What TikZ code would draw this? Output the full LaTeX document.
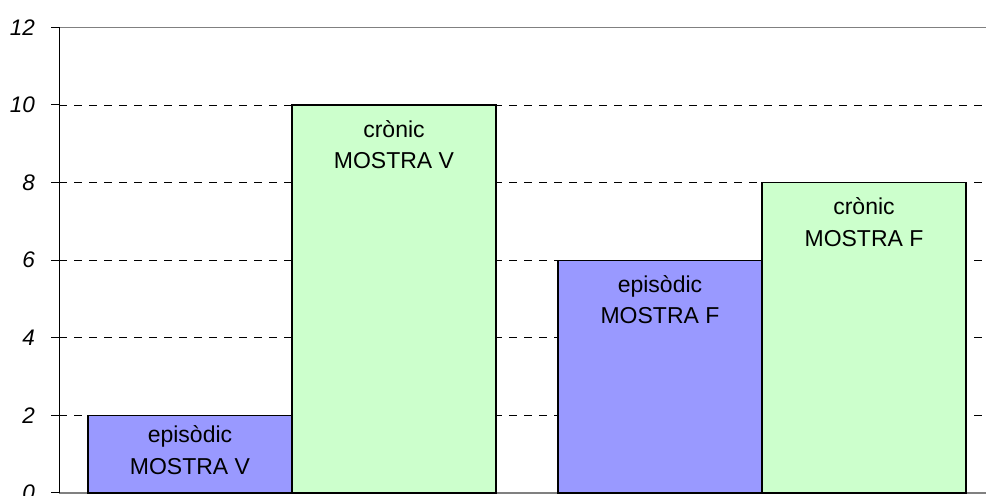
\documentclass[tikz,border=0pt]{standalone}
\usepackage{fontspec}
\setmainfont{Liberation Sans}
\tikzset{
  grid line/.style={black, line width=0.9pt, dash pattern=on 8pt off 7pt},
  episodic bar/.style={draw=black, line width=1.3pt, fill=barblue},
  cronic bar/.style={draw=black, line width=1.3pt, fill=bargreen},
  bar label/.style={anchor=north, align=center, inner sep=0pt, font=\fontsize{23}{31.5}\selectfont},
  axis label/.style={anchor=east, inner sep=0pt, font=\fontsize{22.5}{24}\selectfont\itshape}
}
\definecolor{barblue}{RGB}{153,153,255}
\definecolor{bargreen}{RGB}{204,255,204}
\definecolor{axisgray}{RGB}{128,128,128}
\begin{document}
\begin{tikzpicture}[x=1pt, y=38.8pt]
\useasboundingbox (0,-0.0773) rectangle (986,12.706);
% grid
\foreach \v in {2,4,...,10}
  \draw[grid line] (59,\v) -- (986,\v);
\draw[axisgray, line width=1pt] (59,12) -- (986,12);
\draw[axisgray, line width=1.2pt] (59,0) -- (986,0);
% axis and ticks
\draw[black, line width=1pt] (59,0) -- (59,12);
\foreach \v in {0,2,...,12}{
  \draw[black, line width=1pt] (51,\v) -- (59,\v);
  \node[axis label] (tick\v) at (35,\v) {\v};
}
% bars
\draw[episodic bar] (88,0) rectangle (292,2);
\draw[cronic bar] (292,0) rectangle (496,10);
\draw[episodic bar] (558,0) rectangle (762,6);
\draw[cronic bar] (762,0) rectangle (966,8);
% labels
\node[bar label] (epiV) at (190,2) [yshift=-10pt] {episòdic\\MOSTRA V};
\node[bar label] (croV) at (394,10) [yshift=-15pt] {crònic\\MOSTRA V};
\node[bar label] (epiF) at (660,6) [yshift=-15pt] {episòdic\\MOSTRA F};
\node[bar label] (croF) at (864,8) [yshift=-15pt] {crònic\\MOSTRA F};

\end{tikzpicture}
\end{document}
